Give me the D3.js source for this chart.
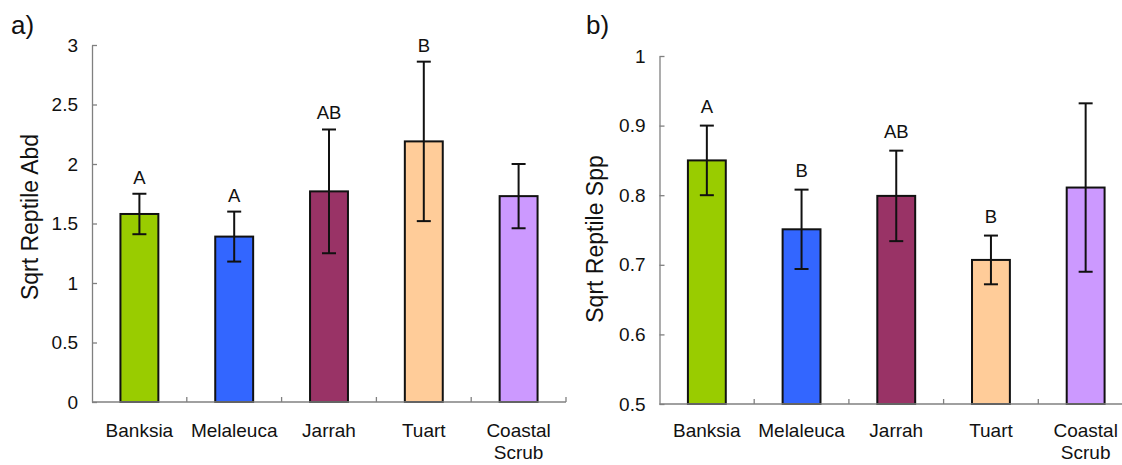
<!DOCTYPE html>
<html>
<head>
<meta charset="utf-8">
<script src="https://cdn.jsdelivr.net/npm/d3@7"></script>
<style>
  html, body { margin: 0; padding: 0; background: #fff; }
  svg { display: block; font-family: "Liberation Sans", Arial, Helvetica, sans-serif; }
</style>
</head>
<body>
<svg id="chart" width="1122" height="465"></svg>
<script>
// ---- data ----
const categories = ["Banksia", "Melaleuca", "Jarrah", "Tuart", "Coastal Scrub"];
const colors = ["#99CC00", "#3366FF", "#993366", "#FFCC99", "#CC99FF"];

const abdMean = [1.58, 1.39, 1.77, 2.19, 1.73];
const abdErr = [0.17, 0.21, 0.52, 0.67, 0.27];
const abdLetters = ["A", "A", "AB", "B", ""];
const abdTicks = [0, 0.5, 1, 1.5, 2, 2.5, 3];
const abdTickLabels = ["0", "0.5", "1", "1.5", "2", "2.5", "3"];

const sppMean = [0.850, 0.751, 0.799, 0.707, 0.811];
const sppErr = [0.050, 0.057, 0.065, 0.035, 0.121];
const sppLetters = ["A", "B", "AB", "B", ""];
const sppTicks = [0.5, 0.6, 0.7, 0.8, 0.9, 1];
const sppTickLabels = ["0.5", "0.6", "0.7", "0.8", "0.9", "1"];

const svg = d3.select("#chart");

function panel(cfg) {
  const g = svg.append("g");
  const x = d3.scaleBand().domain(categories).range([cfg.x0, cfg.x1])
    .paddingInner(0.6).paddingOuter(0.3);
  const y = d3.scaleLinear().domain(cfg.domain).range([cfg.yBottom, cfg.yTop]);

  const rows = categories.map((c, i) => ({
    cat: c, mean: cfg.mean[i], err: cfg.err[i], letter: cfg.letters[i], color: colors[i]
  }));

  // bars
  g.selectAll("rect.bar").data(rows).enter().append("rect")
    .attr("class", "bar")
    .attr("x", d => x(d.cat))
    .attr("width", x.bandwidth())
    .attr("y", d => y(d.mean))
    .attr("height", d => y(cfg.domain[0]) - y(d.mean))
    .attr("fill", d => d.color)
    .attr("stroke", "#111")
    .attr("stroke-width", 2);

  // error bars
  const eb = g.selectAll("g.eb").data(rows).enter().append("g")
    .attr("transform", d => `translate(${x(d.cat) + x.bandwidth() / 2},0)`)
    .attr("stroke", "#111").attr("stroke-width", 2);
  eb.append("line").attr("x1", 0).attr("x2", 0)
    .attr("y1", d => y(d.mean + d.err)).attr("y2", d => y(d.mean - d.err));
  eb.append("line").attr("x1", -7).attr("x2", 7)
    .attr("y1", d => y(d.mean + d.err)).attr("y2", d => y(d.mean + d.err));
  eb.append("line").attr("x1", -7).attr("x2", 7)
    .attr("y1", d => y(d.mean - d.err)).attr("y2", d => y(d.mean - d.err));

  // significance letters
  g.selectAll("text.letter").data(rows.filter(d => d.letter)).enter().append("text")
    .attr("class", "letter")
    .attr("x", d => x(d.cat) + x.bandwidth() / 2)
    .attr("y", d => y(d.mean + d.err) - cfg.letterGap)
    .attr("text-anchor", "middle")
    .attr("font-size", 18.5)
    .attr("fill", "#111")
    .text(d => d.letter);

  // y axis
  const yAxis = d3.axisLeft(y).tickValues(cfg.ticks)
    .tickFormat((d, i) => cfg.tickLabels[i])
    .tickSizeInner(-5).tickSizeOuter(0).tickPadding(14);
  const ya = g.append("g").attr("transform", `translate(${cfg.x0},0)`).call(yAxis);
  ya.select(".domain").attr("stroke", "#808080").attr("stroke-width", 1.3);
  ya.selectAll(".tick line").attr("stroke", "#808080").attr("stroke-width", 1.3);
  ya.selectAll(".tick text").attr("font-size", 19).attr("fill", "#111")
    .attr("font-family", "Liberation Sans, Arial, sans-serif");

  // x axis line + boundary ticks
  const step = x.step();
  const r0 = x.range()[0];
  g.append("line").attr("x1", r0).attr("x2", x.range()[1])
    .attr("y1", y(cfg.domain[0])).attr("y2", y(cfg.domain[0]))
    .attr("stroke", "#808080").attr("stroke-width", 1.3);
  g.selectAll("line.xt").data(d3.range(1, categories.length + 1)).enter().append("line")
    .attr("class", "xt")
    .attr("x1", i => r0 + i * step).attr("x2", i => r0 + i * step)
    .attr("y1", y(cfg.domain[0])).attr("y2", y(cfg.domain[0]) - 5)
    .attr("stroke", "#808080").attr("stroke-width", 1.3);

  // category labels
  const cl = g.selectAll("text.cat").data(categories).enter().append("text")
    .attr("class", "cat")
    .attr("x", c => x(c) + x.bandwidth() / 2)
    .attr("y", cfg.catBaseline)
    .attr("text-anchor", "middle")
    .attr("font-size", 19)
    .attr("fill", "#111");
  cl.each(function (c) {
    const parts = c.split(" ");
    const t = d3.select(this);
    parts.forEach((p, k) => {
      t.append("tspan").attr("x", x(c) + x.bandwidth() / 2)
        .attr("dy", k === 0 ? 0 : 22).text(p);
    });
  });

  // y axis title
  g.append("text")
    .attr("transform", `translate(${cfg.titleX},${cfg.titleY}) rotate(-90)`)
    .attr("text-anchor", "middle")
    .attr("font-size", 23)
    .attr("fill", "#111")
    .text(cfg.title);

  // panel letter
  g.append("text").attr("x", cfg.tagX).attr("y", 34)
    .attr("font-size", 26).attr("fill", "#111").text(cfg.tag);
}

panel({
  x0: 92, x1: 566, yTop: 45, yBottom: 402, domain: [0, 3],
  mean: abdMean, err: abdErr, letters: abdLetters,
  ticks: abdTicks, tickLabels: abdTickLabels,
  letterGap: 10, catBaseline: 437,
  title: "Sqrt Reptile Abd", titleX: 38, titleY: 217,
  tag: "a)", tagX: 11
});

panel({
  x0: 659.5, x1: 1133, yTop: 56, yBottom: 404, domain: [0.5, 1],
  mean: sppMean, err: sppErr, letters: sppLetters,
  ticks: sppTicks, tickLabels: sppTickLabels,
  letterGap: 13, catBaseline: 437,
  title: "Sqrt Reptile Spp", titleX: 603, titleY: 239,
  tag: "b)", tagX: 586
});
</script>
</body>
</html>
